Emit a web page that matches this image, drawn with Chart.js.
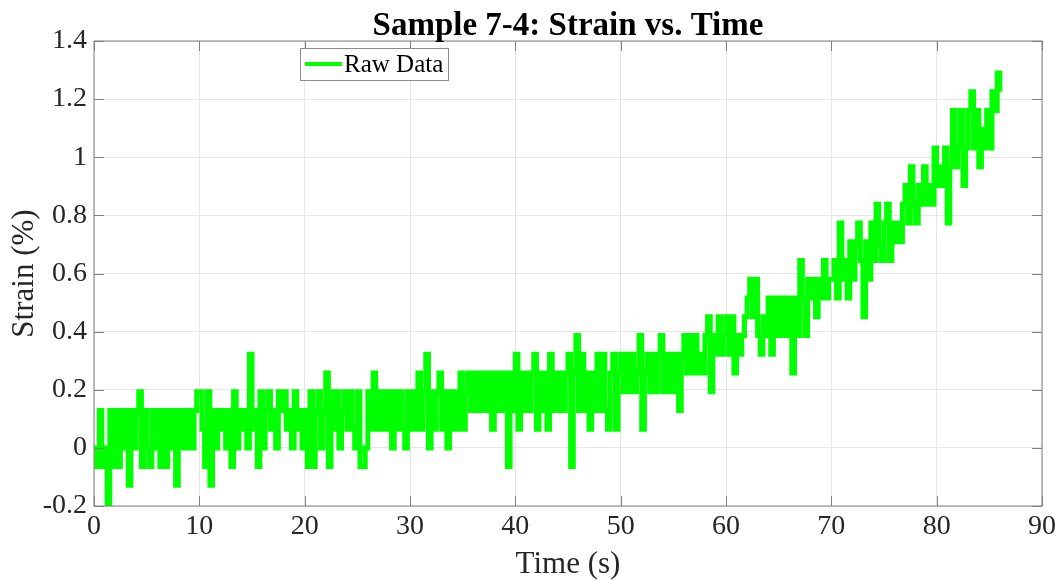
<!DOCTYPE html>
<html>
<head>
<meta charset="utf-8">
<script src="https://cdn.jsdelivr.net/npm/chart.js@4.4.1/dist/chart.umd.min.js"></script>
<style>
  body { margin: 0; background: #fff; }
  #wrap { width: 1060px; height: 580px; }
</style>
</head>
<body>
<div id="wrap"><canvas id="chartStrain" width="1060" height="580"></canvas></div>
<script>
// strain readings are quantised: each value below is a count of STRAIN_STEP (%)
var STRAIN_STEP = 0.0645;
var TIME_STEP = 0.25; // s between readings

// readings, one array per 10 s of the test
var lvl0to10 = [0,-1,2,-1,0,-3,2,-1,2,-1,2,0,2,-2,2,0,2,3,-1,2,0,-1,2,0,2,-1,2,-1,2,0,2,-2,2,0,2,0,2,0,2,3];
var lvl10to20 = [3,1,-1,3,-2,2,0,2,1,2,0,2,-1,3,0,2,1,2,0,5,1,2,-1,3,0,2,3,1,2,0,3,2,3,1,2,0,3,1,2,0];
var lvl20to30 = [2,-1,3,-1,2,3,0,2,4,-1,3,1,3,0,2,3,1,3,1,0,3,-1,-1,0,3,1,4,1,3,1,3,1,3,0,3,1,3,1,0,3];
var lvl30to40 = [1,3,1,4,1,3,5,0,3,1,3,4,1,3,0,3,1,3,1,4,1,3,4,2,4,2,4,2,4,2,4,1,4,2,4,2,4,-1,4,2];
var lvl40to50 = [5,1,4,2,4,2,4,5,1,4,2,4,1,5,2,4,2,4,2,4,5,-1,4,6,2,5,2,4,1,4,2,5,2,5,2,1,4,5,1,4];
var lvl50to60 = [5,3,5,3,5,3,4,6,1,4,5,3,5,3,5,6,3,5,3,5,3,5,2,5,6,4,6,4,6,4,5,4,6,7,3,6,5,7,5,6];
var lvl60to70 = [7,5,7,4,6,5,6,7,8,9,7,9,6,5,7,6,8,5,8,6,8,6,8,6,8,4,8,6,10,8,6,9,8,9,7,9,8,10,8,9];
var lvl70to80 = [9,10,8,12,9,10,8,11,9,11,12,10,7,11,9,12,10,13,11,10,12,13,10,12,11,12,11,13,14,12,15,13,12,14,13,15,13,14,13,16];
var lvl80to86 = [14,15,14,16,12,15,18,15,16,18,14,16,18,19,16,18,15,17,16,18,16,19,18,20,19];

var xTicks = { min: 0, max: 90, step: 10 };
var yTicks = { min: -0.2, max: 1.4, step: 0.2 };

var levels = [].concat(lvl0to10, lvl10to20, lvl20to30, lvl30to40, lvl40to50,
                       lvl50to60, lvl60to70, lvl70to80, lvl80to86);
var points = levels.map(function (l, i) {
    return { x: i * TIME_STEP, y: l * STRAIN_STEP };
});

var serif = "'Liberation Serif', 'Times New Roman', serif";
var ink = '#262626';

// MATLAB style box, inward ticks, title and legend
var axesDecor = {
    id: 'axesDecor',
    afterDatasetsDraw: function (chart) {
        var ctx = chart.ctx, a = chart.chartArea;
        var xs = chart.scales.x, ys = chart.scales.y;
        ctx.save();
        ctx.strokeStyle = '#808080';
        ctx.lineWidth = 1;
        ctx.strokeRect(a.left, a.top, a.right - a.left, a.bottom - a.top);
        ctx.beginPath();
        xs.ticks.forEach(function (t) {
            var px = Math.round(xs.getPixelForValue(t.value)) + 0.5;
            ctx.moveTo(px, a.bottom); ctx.lineTo(px, a.bottom - 10);
            ctx.moveTo(px, a.top); ctx.lineTo(px, a.top + 10);
        });
        ys.ticks.forEach(function (t) {
            var py = Math.round(ys.getPixelForValue(t.value)) + 0.5;
            ctx.moveTo(a.left, py); ctx.lineTo(a.left + 10, py);
            ctx.moveTo(a.right, py); ctx.lineTo(a.right - 10, py);
        });
        ctx.stroke();
        ctx.restore();
    },
    afterDraw: function (chart) {
        var ctx = chart.ctx, a = chart.chartArea;
        var ds = chart.data.datasets[0];
        ctx.save();
        // title, centred over the axes
        ctx.fillStyle = '#000';
        ctx.font = 'bold 33px ' + serif;
        ctx.textAlign = 'center';
        ctx.textBaseline = 'middle';
        ctx.fillText('Sample 7-4: Strain vs. Time', (a.left + a.right) / 2, 26);
        // legend
        var lx = a.left + 206, ly = a.top + 7;
        ctx.fillStyle = '#fff';
        ctx.fillRect(lx, ly, 148, 32);
        ctx.strokeStyle = '#8c8c8c';
        ctx.lineWidth = 1;
        ctx.strokeRect(lx + 0.5, ly + 0.5, 148, 32);
        ctx.strokeStyle = ds.borderColor;
        ctx.lineWidth = 4;
        ctx.beginPath();
        ctx.moveTo(lx + 5, ly + 16);
        ctx.lineTo(lx + 42, ly + 16);
        ctx.stroke();
        ctx.fillStyle = '#000';
        ctx.font = '25px ' + serif;
        ctx.textAlign = 'left';
        ctx.fillText(ds.label, lx + 44, ly + 17);
        ctx.restore();
    }
};

var ctx = document.getElementById('chartStrain').getContext('2d');

let strainChart = new Chart(ctx, {
    type: 'line',
    data: {
        datasets: [{
            label: 'Raw Data',
            data: points,
            borderColor: '#00ff00',
            borderWidth: 5,
            pointRadius: 0,
            stepped: true,
            fill: false
        }]
    },
    options: {
        responsive: false,
        animation: false,
        devicePixelRatio: 1,
        layout: { padding: { top: 41, right: 18, left: 0, bottom: 0 } },
        plugins: {
            legend: { display: false },
            title: { display: false },
            tooltip: { enabled: false }
        },
        scales: {
            x: {
                type: 'linear',
                min: xTicks.min,
                max: xTicks.max,
                afterFit: function (s) { s.height = 74; },
                ticks: {
                    stepSize: xTicks.step,
                    padding: 4,
                    color: ink,
                    font: { family: serif, size: 28 }
                },
                grid: { color: '#e6e6e6', drawTicks: false },
                border: { display: false },
                title: {
                    display: true,
                    text: 'Time (s)',
                    color: ink,
                    padding: { top: 0, bottom: 0 },
                    font: { family: serif, size: 31, lineHeight: 1 }
                }
            },
            y: {
                type: 'linear',
                min: yTicks.min,
                max: yTicks.max,
                afterFit: function (s) { s.width = 94; },
                ticks: {
                    stepSize: yTicks.step,
                    padding: 7,
                    color: ink,
                    font: { family: serif, size: 28 },
                    callback: function (v) { return String(+v.toFixed(1)); }
                },
                grid: { color: '#e6e6e6', drawTicks: false },
                border: { display: false },
                title: {
                    display: true,
                    text: 'Strain (%)',
                    color: ink,
                    padding: { top: 9, bottom: 0 },
                    font: { family: serif, size: 31, lineHeight: 1 }
                }
            }
        }
    },
    plugins: [axesDecor]
});
</script>
</body>
</html>
